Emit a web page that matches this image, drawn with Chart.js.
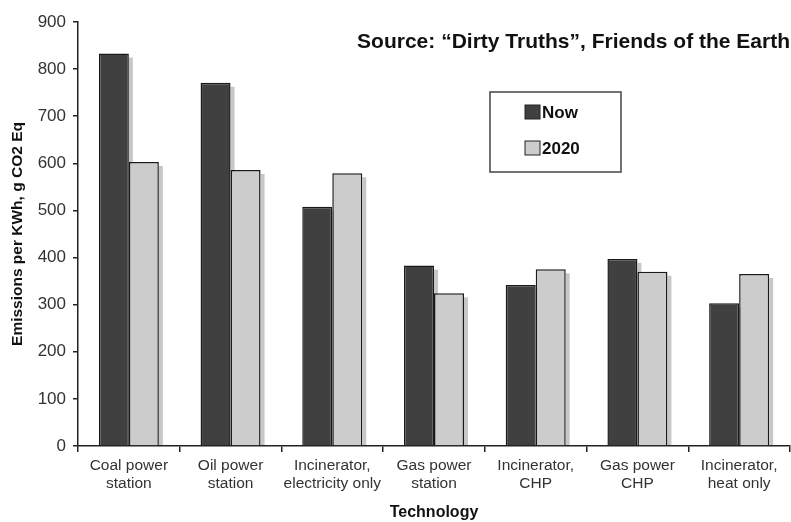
<!DOCTYPE html>
<html lang="en">
<head>
  <meta charset="UTF-8">
  <title>Emissions per KWh</title>
  <script src="https://cdn.jsdelivr.net/npm/chart.js"></script>
  <style>
    html, body { margin: 0; padding: 0; background: #fff; }
    #chartBox { width: 791px; height: 522px; }
  </style>
</head>
<body>
  <div id="chartBox"><canvas id="grafico"></canvas></div>
<script>
  // datos
  const categories = [
    ['Coal power', 'station'],
    ['Oil power', 'station'],
    ['Incinerator,', 'electricity only'],
    ['Gas power', 'station'],
    ['Incinerator,', 'CHP'],
    ['Gas power', 'CHP'],
    ['Incinerator,', 'heat only']
  ];
  const nowValues = [833, 771, 508, 383, 342, 397, 303];
  const values2020 = [603, 586, 579, 324, 375, 370, 365];
  const yTicks = [0, 100, 200, 300, 400, 500, 600, 700, 800, 900];
  const sourceText = 'Source: \u201cDirty Truths\u201d, Friends of the Earth';

  const FONT = '"Liberation Sans", Arial, sans-serif';

  // sombra gris a la derecha de cada barra
  const barShadow = {
    id: 'barShadow',
    beforeDatasetsDraw(chart) {
      const ctx = chart.ctx;
      ctx.save();
      ctx.fillStyle = 'rgba(0,0,0,0.22)';
      chart.data.datasets.forEach((ds, i) => {
        chart.getDatasetMeta(i).data.forEach((bar) => {
          const right = bar.x + bar.width / 2;
          ctx.fillRect(right, bar.y + 4, 4, bar.base - bar.y - 4);
        });
      });
      ctx.restore();
    }
  };

  // leyenda en caja y texto de la fuente
  const extras = {
    id: 'extras',
    afterDraw(chart) {
      const ctx = chart.ctx;
      ctx.save();
      ctx.fillStyle = '#111';
      ctx.font = 'bold 21px ' + FONT;
      ctx.textAlign = 'right';
      ctx.textBaseline = 'middle';
      ctx.fillText(sourceText, 790, 42);

      // caja
      ctx.strokeStyle = '#444';
      ctx.lineWidth = 1.5;
      ctx.strokeRect(490, 92, 131, 80);
      ctx.font = 'bold 17px ' + FONT;
      ctx.textAlign = 'left';
      chart.data.datasets.forEach((ds, i) => {
        const cy = 112 + i * 36;
        ctx.fillStyle = ds.backgroundColor;
        ctx.fillRect(525, cy - 7, 15, 14);
        ctx.strokeStyle = '#222';
        ctx.lineWidth = 1;
        ctx.strokeRect(525, cy - 7, 15, 14);
        ctx.fillStyle = '#111';
        ctx.fillText(ds.label, 542, cy + 1);
      });
      ctx.restore();
    }
  };

  const ctx = document.getElementById('grafico').getContext('2d');
  const chart = new Chart(ctx, {
    type: 'bar',
    data: {
      labels: categories,
      datasets: [
        {
          label: 'Now',
          data: nowValues,
          backgroundColor: '#404040',
          borderColor: '#1a1a1a',
          borderWidth: 1.5
        },
        {
          label: '2020',
          data: values2020,
          backgroundColor: '#cccccc',
          borderColor: '#1a1a1a',
          borderWidth: 1.5
        }
      ]
    },
    options: {
      responsive: true,
      maintainAspectRatio: false,
      animation: false,
      datasets: {
        bar: { categoryPercentage: 0.59, barPercentage: 1.0 }
      },
      layout: { padding: { top: 22, right: 1, left: 0, bottom: 0 } },
      plugins: {
        legend: { display: false },
        tooltip: { enabled: false }
      },
      scales: {
        x: {
          grid: {
            display: true,
            drawOnChartArea: false,
            drawTicks: true,
            tickLength: 6,
            color: '#222',
            lineWidth: 1.5
          },
          border: { display: true, color: '#222', width: 1.5 },
          ticks: {
            color: '#333',
            font: { family: FONT, size: 15.5 },
            padding: 4,
            maxRotation: 0,
            autoSkip: false
          },
          title: {
            display: true,
            text: 'Technology',
            color: '#111',
            font: { family: FONT, size: 16, weight: 'bold' },
            padding: { top: 0, bottom: 0 }
          },
          afterFit(scale) { scale.height = 76; }
        },
        y: {
          min: 0,
          max: 900,
          afterBuildTicks(scale) { scale.ticks = yTicks.map(v => ({ value: v })); },
          grid: {
            display: true,
            drawOnChartArea: false,
            drawTicks: true,
            tickLength: 5,
            color: '#222',
            lineWidth: 1.5
          },
          border: { display: true, color: '#222', width: 1.5 },
          ticks: {
            color: '#333',
            font: { family: FONT, size: 17 },
            padding: 7
          },
          title: {
            display: true,
            text: 'Emissions per KWh, g CO2 Eq',
            color: '#111',
            font: { family: FONT, size: 15.5, weight: 'bold' },
            padding: { top: 8, bottom: 0 }
          },
          afterFit(scale) { scale.width = 78; }
        }
      }
    },
    plugins: [barShadow, extras]
  });
</script>
</body>
</html>
